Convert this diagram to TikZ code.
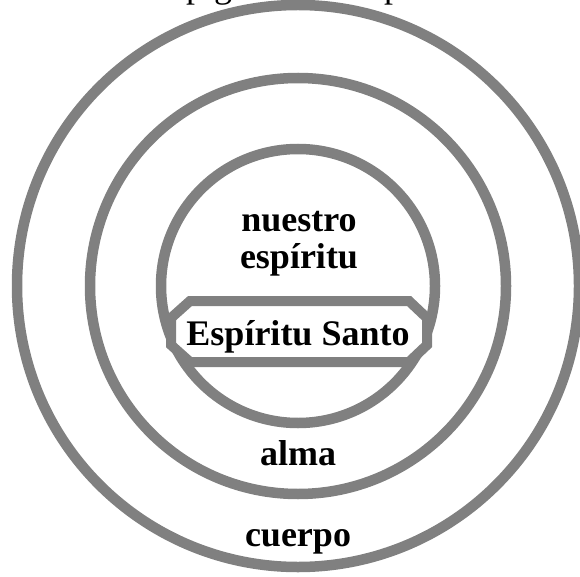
\documentclass[tikz,border=0pt]{standalone}
\usepackage{fontspec}
\setmainfont{Liberation Serif}
\begin{document}
\begin{tikzpicture}[x=1pt,y=-1pt,
  ring/.style={draw=ringgray, line width=10.5pt},
  lbl/.style={font=\fontsize{36}{36}\selectfont\bfseries, inner sep=0pt, anchor=base, align=center},
  frag/.style={font=\fontsize{36}{36}\selectfont, inner sep=0pt, anchor=base west}]
\definecolor{ringgray}{HTML}{808080}
\useasboundingbox (0,0) rectangle (580,577);
\clip (0,0) rectangle (580,577);
% cut-off text fragments at the top edge
\node[frag] (f1) at (186,-2.5) {p};
\node[frag] (f2) at (214,-2.5) {g};
\node[frag] (f3) at (384,-2.5) {p};
% rings
\coordinate (c) at (298,286);
\draw[ring] (c) circle[radius=281];
\draw[ring] (c) circle[radius=208];
\draw[ring] (c) circle[radius=137];
% octagon box
\draw[ring, fill=white, line width=10pt]
  (190,301) -- (409,301) -- (427,318) -- (427,345) -- (409,362)
  -- (190,362) -- (171,345) -- (171,318) -- cycle;
\node[lbl] (hs) at (298,345) {Espíritu Santo};
\node[lbl] (ne1) at (299,231) {nuestro};
\node[lbl] (ne2) at (299,268) {espíritu};
\node[lbl] (alma) at (298,465) {alma};
\node[lbl] (cuerpo) at (298,546) {cuerpo};
\end{tikzpicture}
\end{document}
